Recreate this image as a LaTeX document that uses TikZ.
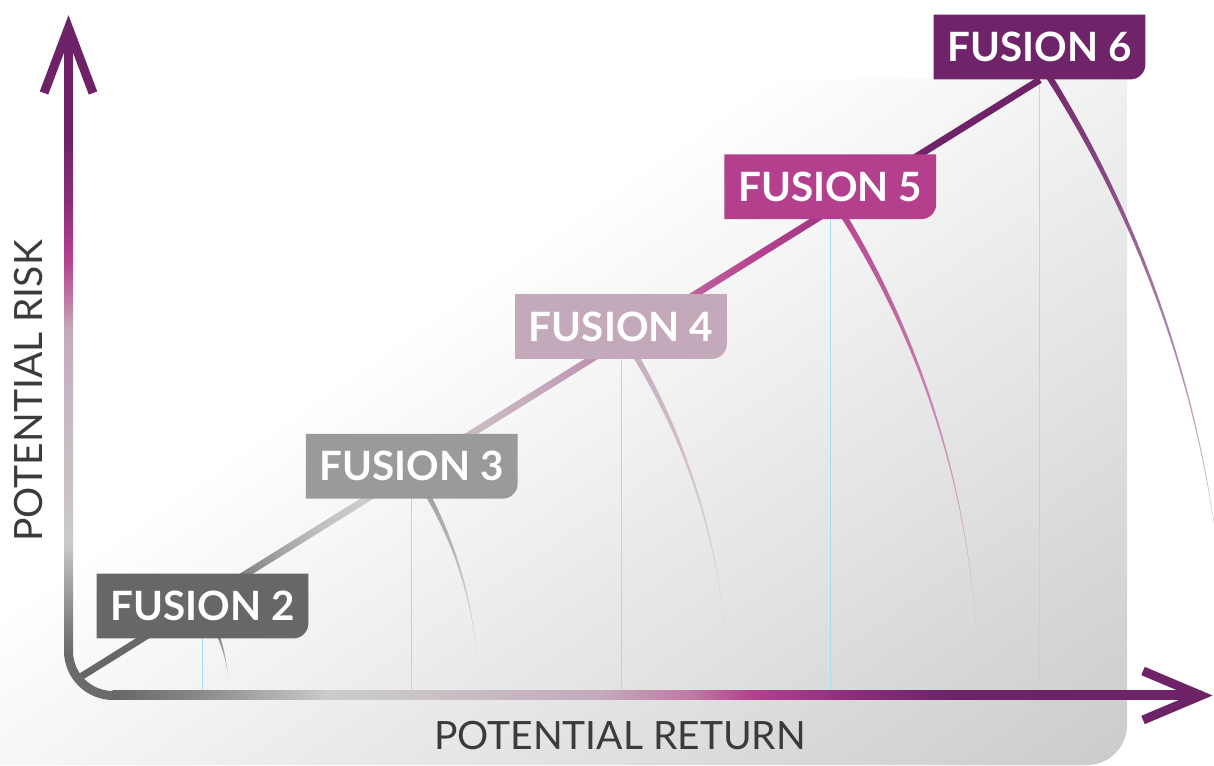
\documentclass[tikz,border=0pt]{standalone}
\usepackage{fontspec}
\usepackage{tikz}
\usetikzlibrary{calc}
\usetikzlibrary{fadings}
\newfontfamily\fusionfont{Lato}
\definecolor{fusiontwo}{HTML}{676767}
\definecolor{fusionthree}{HTML}{9A9A9A}
\definecolor{fusionfour}{HTML}{C4A9BB}
\definecolor{fusionfive}{HTML}{B43F8C}
\definecolor{fusionsix}{HTML}{6F2469}
\definecolor{fgrey}{HTML}{666666}
\definecolor{fmid}{HTML}{8A8A8A}
\definecolor{flight}{HTML}{CCCCCC}
\definecolor{fpale}{HTML}{C9C3C7}
\definecolor{fmauve}{HTML}{C4AABB}
\definecolor{frose}{HTML}{C07AA5}
\definecolor{fmagenta}{HTML}{B5418F}
\definecolor{fplum}{HTML}{8D2D7C}
\definecolor{fpurple}{HTML}{6E2369}
\definecolor{cornergrey}{HTML}{6B6B6B}
\definecolor{labelgrey}{HTML}{3B3B3B}
\definecolor{gridblue}{HTML}{A8DCF0}
\definecolor{bgdark}{HTML}{CBCBCB}
\pgfdeclarelayer{background}
\pgfdeclarelayer{wires}
\pgfdeclarelayer{boxes}
\pgfsetlayers{background,wires,boxes,main}
% colour runs, 25bp = start of the path, 75bp = end
\pgfdeclarehorizontalshading{returnaxis}{100bp}{color(0bp)=(fgrey); color(25bp)=(fgrey); color(29bp)=(fmid); color(35bp)=(flight); color(39bp)=(fpale); color(47.4bp)=(fmauve); color(51.5bp)=(frose); color(54.3bp)=(fmagenta); color(58.9bp)=(fplum); color(63.5bp)=(fpurple); color(100bp)=(fpurple)}
\pgfdeclareverticalshading{riskaxis}{100bp}{color(0bp)=(cornergrey); color(25bp)=(cornergrey); color(30.5bp)=(fgrey!40!flight); color(33.9bp)=(flight); color(37.1bp)=(fpale); color(45.1bp)=(fpale!50!fmauve); color(50.8bp)=(fmauve); color(53.2bp)=(frose); color(56.4bp)=(fmagenta); color(60.8bp)=(fplum); color(66bp)=(fpurple); color(100bp)=(fpurple)}
\pgfdeclarehorizontalshading{riseline}{100bp}{color(0bp)=(fgrey); color(25bp)=(fgrey); color(31.3bp)=(cornergrey); color(33.4bp)=(fmid!70!fgrey); color(35.6bp)=(fmid!60!flight); color(37.4bp)=(fmid!20!flight); color(39.6bp)=(flight); color(44.3bp)=(fpale); color(49bp)=(fmauve); color(56.9bp)=(frose!60!fmagenta); color(60.5bp)=(fmagenta); color(66.8bp)=(fplum); color(69.4bp)=(fpurple); color(100bp)=(fpurple)}
\tikzset{
	fusionbox/.style={minimum width=105.5pt, minimum height=32pt, inner sep=0pt, text=white, font=\fusionfont\bfseries\fontsize{20.2}{24}\selectfont},
	axislabel/.style={inner sep=0pt, text=labelgrey, font=\fusionfont\fontsize{19.5}{23}\selectfont},
	gridline/.style={draw=gridblue, line width=0.5pt},
	arrowpen/.style={draw=fpurple, line width=4.5pt},
}

\begin{document}
\begin{tikzpicture}[x=0.5pt, y=0.5pt]
\useasboundingbox (0,0) rectangle (1214,765);
\coordinate (pivot) at (90,73);
\coordinate (axistop) at (0,74);
\coordinate (rstart) at (78,86.5);
% the five steps
\foreach \i/\x/\y in {2/202.5/159, 3/411.75/298.75, 4/621/438.5, 5/830.25/578.25, 6/1039.5/718} {
	\node[fusionbox] (f\i) at (\x,\y) {FUSION \i};
	};
\node[axislabel, rotate=90] (risk) at (29,374) {POTENTIAL RISK};
\node[axislabel] (return) at (620,29) {POTENTIAL RETURN};

\begin{pgfonlayer}{background}
\begin{scope}
	\clip (0,0) -- (0,686) -- (1127,686) -- (1127,40) arc[start angle=0, end angle=-90, radius=40] -- cycle;
	\begin{scope}[transform canvas={shift={(1127,0)}, rotate=125}]
		\shade[left color=bgdark, right color=white] (0,-1300) rectangle (770,1300);
	\end{scope}
\end{scope}
\end{pgfonlayer}

\begin{pgfonlayer}{wires}
\foreach \i in {2,...,6} {
	\draw[gridline] (f\i.south) -- (f\i.south |- axistop);
	};
\foreach \i/\d/\c in {2/15.5/fusiontwo, 3/15.25/fusionthree, 4/13/fusionfour, 5/11.75/fusionfive, 6/7.5/fusionsix} {
	\fill[\c, path fading=south] let \p1=($(f\i.south)+(\d,0)-(pivot)$), \n1={veclen(\x1,\y1)}, \n2={atan2(\y1,\x1)} in ($(f\i.south)+(\d,0)$) arc[start angle=\n2, end angle=0, radius=\n1] arc[start angle=0, end angle=\n2, radius=\n1+21pt] -- cycle;
	};
% rising line from the corner to fusion 6
\begin{scope}[transform canvas={shift={(rstart)}, rotate=31.9}]
	\shade[shading=riseline] (0,-3.5) rectangle (1133,3.5);
\end{scope}
% axes
\shade[shading=riskaxis] (64,113.5) rectangle (73,737);
\draw[cornergrey, line width=4.5pt] (68.5,114) arc[start angle=180, end angle=270, radius=44.5];
\shade[shading=returnaxis] (112.5,65) rectangle (1201,74);
\draw[arrowpen] (44,672) -- (68.5,737) -- (93,672);
\draw[arrowpen] (1143,94) -- (1201,69.5) -- (1143,45);
\end{pgfonlayer}

\begin{pgfonlayer}{boxes}
\foreach \i/\c in {2/fusiontwo, 3/fusionthree, 4/fusionfour, 5/fusionfive, 6/fusionsix} {
	\fill[\c] (f\i.south west) -- (f\i.north west) -- (f\i.north east) -- ([yshift=7.5pt]f\i.south east) arc[start angle=0, end angle=-90, radius=7.5pt] -- cycle;
	};
\end{pgfonlayer}
\end{tikzpicture}
\end{document}
